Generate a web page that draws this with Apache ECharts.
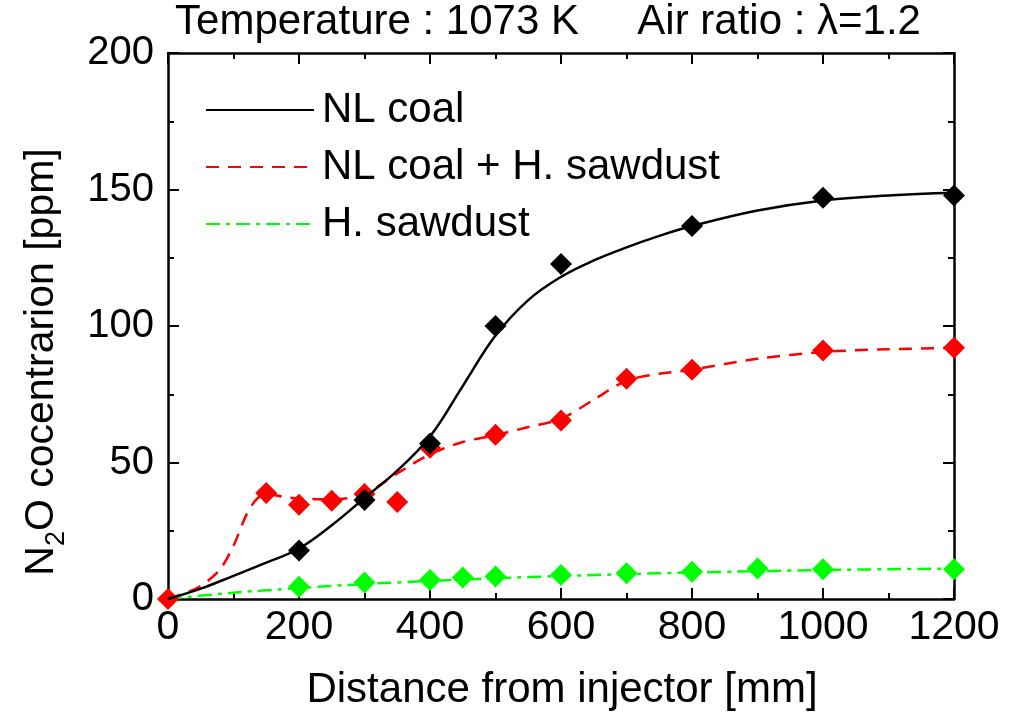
<!DOCTYPE html>
<html>
<head>
<meta charset="utf-8">
<script src="https://cdn.jsdelivr.net/npm/echarts@6/dist/echarts.min.js"></script>
<style>
  html, body { margin: 0; padding: 0; background: #fff; }
  #chart { width: 1022px; height: 717px; }
</style>
</head>
<body>
<div id="chart"></div>
<script>
// measured points (diamonds)
const coalX = [200, 300, 400, 500, 600, 800, 1000, 1200]
const coalY = [17.8, 36.3, 57, 100, 122.7, 136.6, 147, 147.8]
const mixX = [0, 150, 200, 250, 300, 350, 400, 500, 600, 700, 800, 1000, 1200]
const mixY = [0, 38.8, 34.5, 36, 38.5, 35.5, 55.4, 60.2, 65.4, 80.7, 84, 91, 92]
const sawX = [200, 300, 400, 450, 500, 600, 700, 800, 900, 1000, 1200]
const sawY = [4.5, 6, 7, 7.9, 8.2, 8.8, 9.4, 10, 11.2, 10.9, 10.9]

// fitted curves
const coalFitX = [0, 50, 100, 150, 200, 250, 300, 350, 400, 450, 500, 550, 600, 650, 700, 750, 800, 900, 1000, 1100, 1200]
const coalFitY = [0, 3.8, 8.5, 13.3, 18.5, 27, 37, 47, 59.5, 78, 96.5, 109.5, 118, 124, 128.8, 133, 136.6, 142.3, 146, 147.8, 148.8]
const mixFitX = [0, 40, 60, 80, 100, 120, 135, 150, 175, 200, 250, 300, 350, 400, 450, 500, 550, 600, 650, 700, 750, 800, 900, 1000, 1100, 1200]
const mixFitY = [0, 3.5, 6.5, 11, 19.5, 31, 36.5, 38.5, 37.5, 36.8, 36.5, 38.5, 46, 53, 57.5, 60, 63, 66, 73, 80, 82.5, 84, 88, 90.5, 91.5, 92]
const sawFitX = [0, 100, 200, 300, 400, 500, 600, 700, 800, 900, 1000, 1100, 1200]
const sawFitY = [0, 2.3, 4, 5.5, 6.6, 7.6, 8.4, 9.1, 9.7, 10.2, 10.6, 10.9, 11.1]

const xTicks = [0, 1200, 200]
const yTicks = [0, 200, 50]

const zip = (xs, ys) => xs.map((x, i) => [x, ys[i]])
const FONT = 'Liberation Sans, Arial, sans-serif'

const chart = echarts.init(document.getElementById('chart'))

const axisCommon = {
    type: 'value',
    axisLine: {onZero: false, lineStyle: {color: '#000', width: 2.5}},
    axisTick: {inside: true, length: 11, lineStyle: {color: '#000', width: 2}},
    minorTick: {show: true, splitNumber: 2, length: 6, lineStyle: {color: '#000', width: 2}},
    splitLine: {show: false},
    minorSplitLine: {show: false}
}

const xLabel = {color: '#000', fontSize: 41, fontFamily: FONT, margin: 8, formatter: v => String(v)}
const yLabel = {color: '#000', fontSize: 40, fontFamily: FONT, margin: 14, formatter: v => String(v)}

chart.setOption({
    animation: false,
    backgroundColor: '#fff',
    grid: {left: 168, right: 68, top: 53, bottom: 118, containLabel: false},
    xAxis: [
        {...axisCommon, position: 'bottom', min: xTicks[0], max: xTicks[1], interval: xTicks[2], axisLabel: xLabel},
        {...axisCommon, position: 'top', min: xTicks[0], max: xTicks[1], interval: xTicks[2], axisLabel: {show: false}}
    ],
    yAxis: [
        {...axisCommon, position: 'left', min: yTicks[0], max: yTicks[1], interval: yTicks[2], axisLabel: yLabel},
        {...axisCommon, position: 'right', min: yTicks[0], max: yTicks[1], interval: yTicks[2], axisLabel: {show: false}}
    ],
    legend: {
        orient: 'vertical',
        left: 200,
        top: 83,
        itemWidth: 108,
        itemHeight: 14,
        itemGap: 13,
        itemStyle: {color: 'rgba(0,0,0,0)', borderWidth: 0, opacity: 0},
        textStyle: {color: '#000', fontSize: 42, fontFamily: FONT, lineHeight: 44, padding: [0, 0, 0, 3]},
        data: ['NL coal', 'NL coal + H. sawdust', 'H. sawdust']
    },
    graphic: [
        {
            type: 'text', x: 548, y: 22,
            style: {text: 'Temperature : 1073 K     Air ratio : λ=1.2', fontSize: 42, fontFamily: FONT, fill: '#000', align: 'center', verticalAlign: 'middle'}
        },
        {
            type: 'text', x: 562, y: 690,
            style: {text: 'Distance from injector [mm]', fontSize: 42, fontFamily: FONT, fill: '#000', align: 'center', verticalAlign: 'middle'}
        },
        {
            type: 'text', x: 42, y: 362, rotation: Math.PI / 2,
            style: {
                text: 'N{sub|2}O cocentrarion [ppm]',
                fontSize: 41, fontFamily: FONT, fill: '#000', align: 'center', verticalAlign: 'middle', lineHeight: 56,
                rich: {sub: {fontSize: 27, fontFamily: FONT, fill: '#000', verticalAlign: 'bottom', lineHeight: 56}}
            }
        }
    ],
    series: [
        {
            name: 'H. sawdust', type: 'line', data: zip(sawFitX, sawFitY), symbol: 'none', smooth: 0.3,
            lineStyle: {color: '#00ff00', width: 2.5, type: [14, 6, 4, 6]}, itemStyle: {color: '#00ff00'}, z: 2
        },
        {
            type: 'scatter', data: zip(sawX, sawY), symbol: 'diamond', symbolSize: 22,
            itemStyle: {color: '#00ff00', opacity: 1}, z: 3
        },
        {
            name: 'NL coal + H. sawdust', type: 'line', data: zip(mixFitX, mixFitY), symbol: 'none', smooth: 0.3,
            lineStyle: {color: '#ff0000', width: 2.5, type: [13, 9]}, itemStyle: {color: '#ff0000'}, z: 4
        },
        {
            type: 'scatter', data: zip(mixX, mixY), symbol: 'diamond', symbolSize: 22,
            itemStyle: {color: '#ff0000', opacity: 1}, z: 5
        },
        {
            name: 'NL coal', type: 'line', data: zip(coalFitX, coalFitY), symbol: 'none', smooth: 0.4,
            lineStyle: {color: '#000', width: 2.5}, itemStyle: {color: '#000'}, z: 6
        },
        {
            type: 'scatter', data: zip(coalX, coalY), symbol: 'diamond', symbolSize: 22,
            itemStyle: {color: '#000', opacity: 1}, z: 7
        }
    ]
})
</script>
</body>
</html>
